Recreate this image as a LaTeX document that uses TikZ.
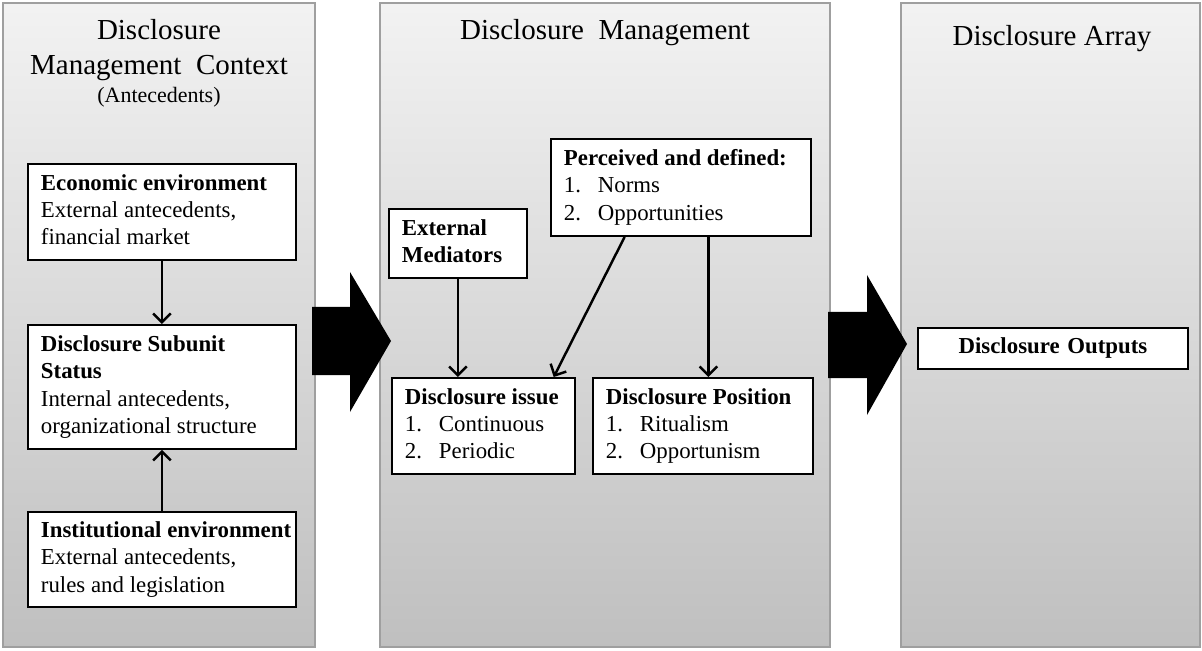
\documentclass[tikz,border=0pt]{standalone}
\usepackage{fontspec}
\setmainfont{Liberation Serif}
\usetikzlibrary{arrows.meta,calc}
\tikzset{
	panel/.style={draw=gray!75,line width=0.8pt,top color=gray!10,bottom color=gray!50},
	box/.style={draw=black,line width=1.1pt,fill=white,anchor=north west,align=flush left,inner xsep=0.26cm,inner ysep=0pt,font=\fontsize{13}{15.6}\selectfont,execute at begin node=\strut,execute at end node=\strut},
	link/.style={line width=1.4pt,-{Straight Barb[length=5pt,width=10pt]}},
	heading/.style={anchor=base,font=\fontsize{16.5}{19.8}\selectfont}
}
\newcommand{\itm}[2]{\makebox[0.68cm][l]{#1}#2}
\begin{document}
\begin{tikzpicture}[x=0.02cm,y=-0.02cm]
		\useasboundingbox (0,0) rectangle (1202,651);
		
		%panels
		\draw[panel] (3,3) rectangle (315,647);
		\draw[panel] (380,3) rectangle (830,647);
		\draw[panel] (901,3) rectangle (1200,647);
		%block arrows
		\fill (312,307) -- (350,307) -- (350,272) -- (391,341) -- (350,412) -- (350,375) -- (312,375) -- cycle;
		\fill (828,312) -- (867,312) -- (867,275) -- (907,344) -- (867,415) -- (867,378) -- (828,378) -- cycle;
		%headings
		\node[heading](ctxA) at (159,40) {Disclosure};
		\node[heading](ctxB) at (159,75) {Management\ \ Context};
		\node[anchor=base,font=\fontsize{12.5}{15}\selectfont](ctxC) at (159,103) {(Antecedents)};
		\node[heading](mgmt) at (605,40) {Disclosure\ \ Management};
		\node[heading](arr) at (1052,46) {Disclosure Array};
		%context boxes
		\node[box,minimum width=5.36cm,minimum height=1.92cm,text width=4.84cm](econ) at (27,163) {\textbf{Economic environment}\\External antecedents,\\financial market};
		\node[box,minimum width=5.36cm,minimum height=2.48cm,text width=4.84cm](sub) at (27,324) {\textbf{Disclosure Subunit}\\\textbf{Status}\\Internal antecedents,\\organizational structure};
		\node[box,minimum width=5.36cm,minimum height=1.9cm,text width=4.84cm](inst) at (27,511) {\mbox{\textbf{Institutional environment}}\\External antecedents,\\rules and legislation};
		%management boxes
		\node[box,minimum width=2.76cm,minimum height=1.38cm,text width=2.24cm](ext) at (388,208) {\textbf{External}\\\textbf{Mediators}};
		\node[box,minimum width=5.2cm,minimum height=1.94cm,text width=4.68cm](perc) at (550,138) {\textbf{Perceived and defined:}\\\itm{1.}{Norms}\\\itm{2.}{Opportunities}};
		\node[box,minimum width=3.66cm,minimum height=1.92cm,text width=3.14cm](issue) at (391,377) {\textbf{Disclosure issue}\\\itm{1.}{Continuous}\\\itm{2.}{Periodic}};
		\node[box,minimum width=4.4cm,minimum height=1.92cm,text width=3.88cm](pos) at (592,377) {\textbf{Disclosure Position}\\\itm{1.}{Ritualism}\\\itm{2.}{Opportunism}};
		%array box
		\node[box,align=center,minimum width=5.4cm,minimum height=0.82cm,text width=4.88cm](out) at (917,327) {\textbf{Disclosure Outputs}};
		%arrows
		\draw[link] (econ) -- (sub);
		\draw[link] (inst) -- (sub);
		\draw[link] (ext) -- (ext |- issue.north);
		\draw[link] ($(perc.south west)!0.285!(perc.south east)$) -- ($(issue.north west)!0.88!(issue.north east)$);
		\coordinate (pb) at ($(perc.south west)!0.605!(perc.south east)$);
		\draw[link] (pb) -- (pb |- pos.north);
		\end{tikzpicture}
\end{document}
